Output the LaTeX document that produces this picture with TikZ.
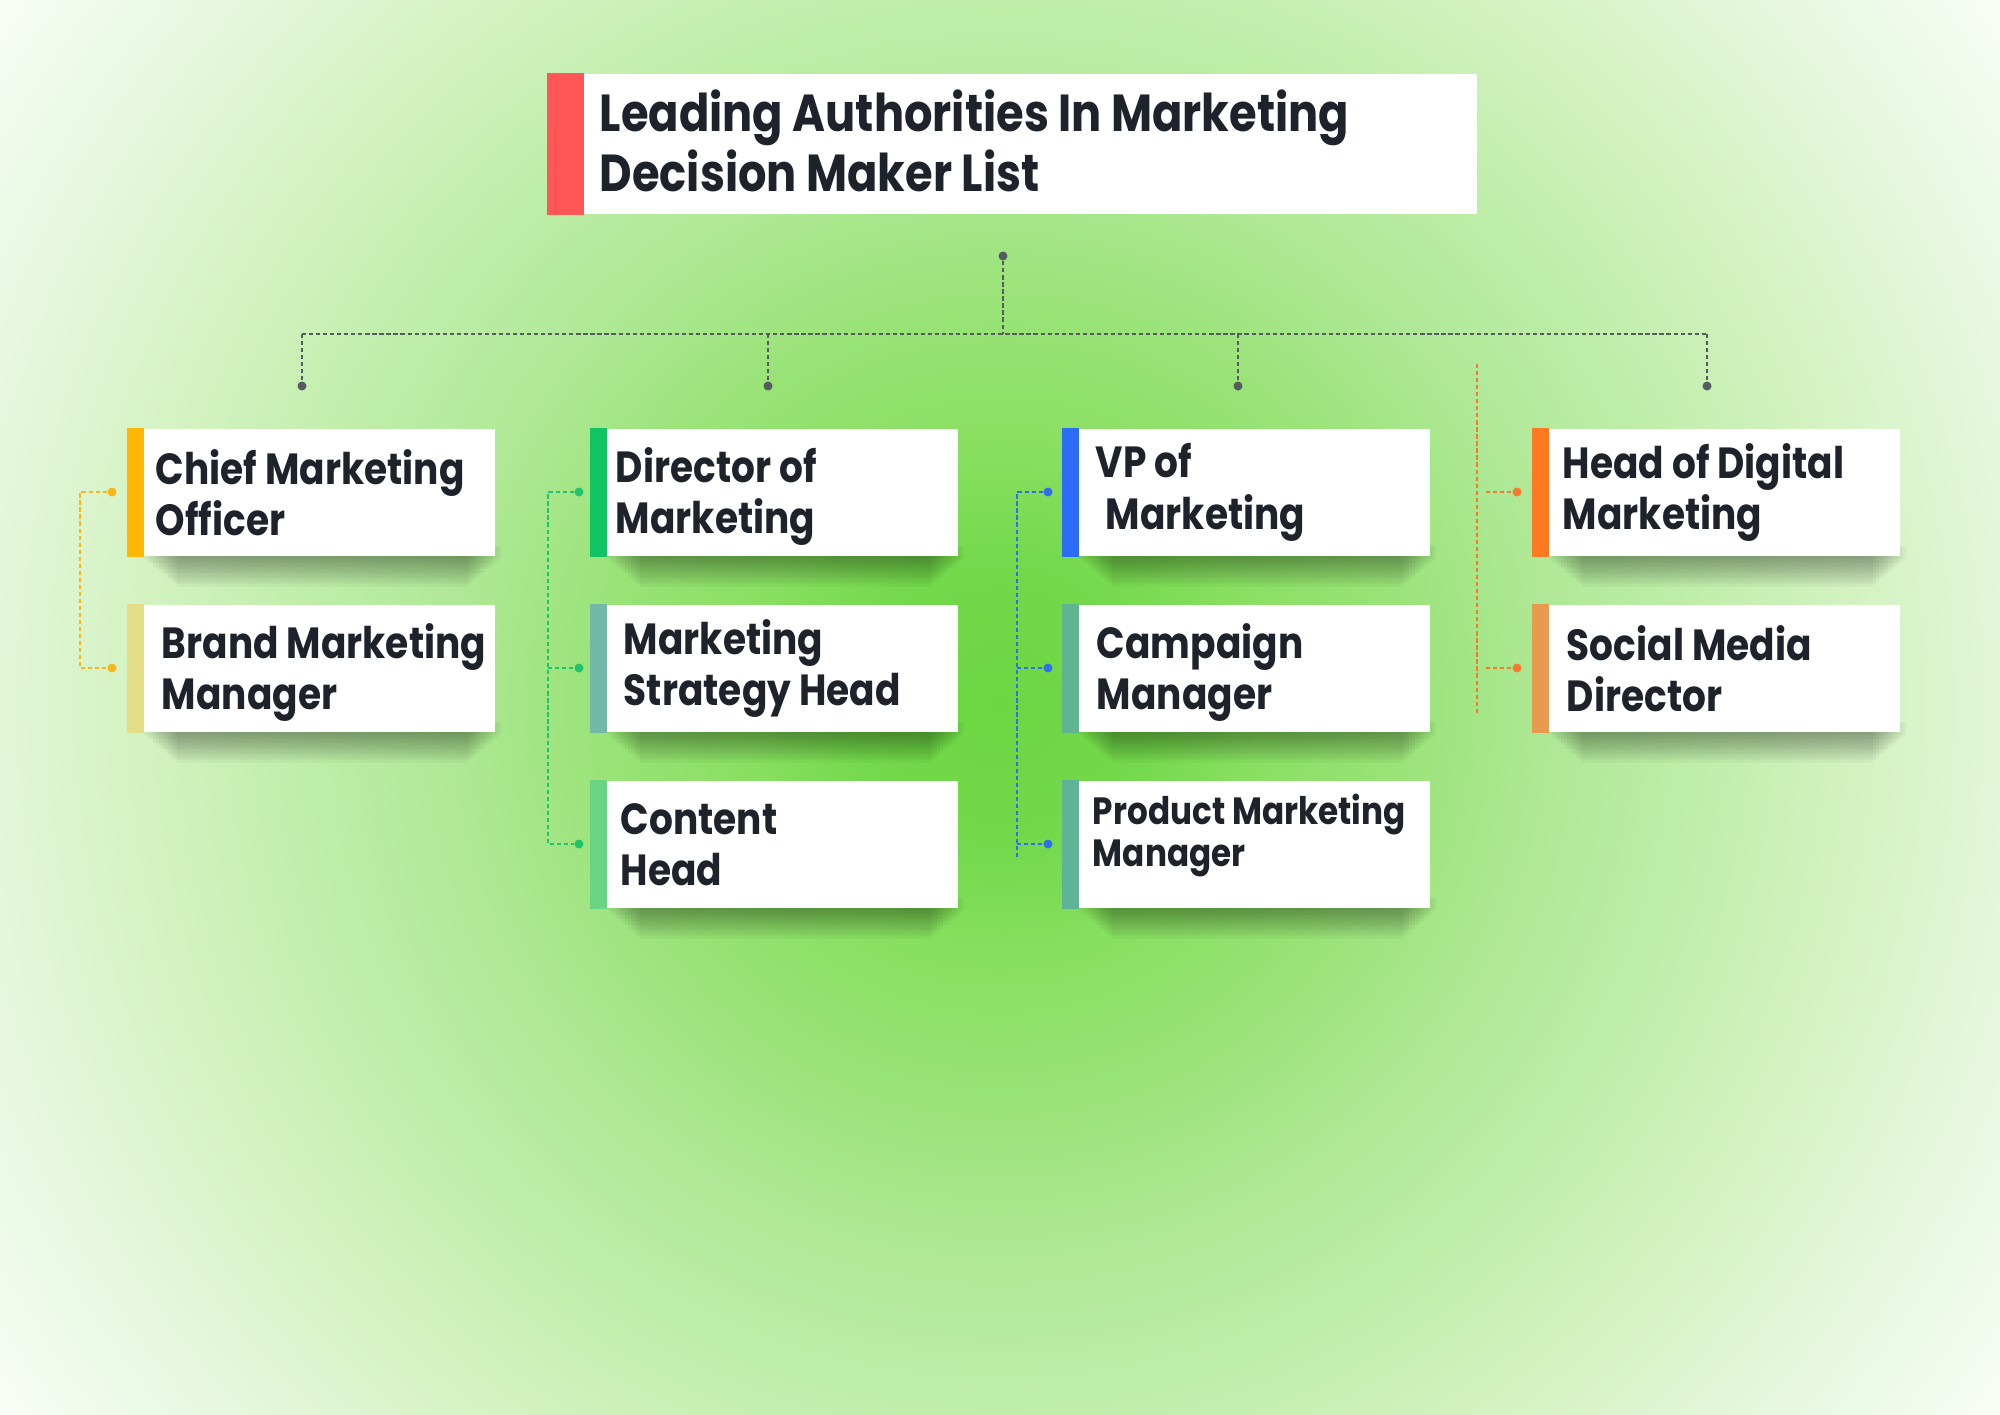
\documentclass[tikz,border=0pt]{standalone}
\usepackage{fontspec}
\setmainfont{Poppins}[FakeStretch=0.86]
\pgfdeclarelayer{bg}
\pgfdeclarelayer{shadow}
\pgfsetlayers{bg,shadow,main}
\definecolor{g0}{RGB}{108,214,66}
\definecolor{g1}{RGB}{116,217,76}
\definecolor{g2}{RGB}{136,223,96}
\definecolor{g3}{RGB}{153,227,119}
\definecolor{g4}{RGB}{175,232,150}
\definecolor{g5}{RGB}{192,238,170}
\definecolor{g6}{RGB}{210,242,192}
\definecolor{g7}{RGB}{225,246,215}
\definecolor{g8}{RGB}{249,253,247}
\pgfdeclareradialshading{bgshade}{\pgfpoint{0bp}{0bp}}{color(0bp)=(g0); color(42bp)=(g1); color(71bp)=(g2); color(113bp)=(g3); color(156bp)=(g4); color(200bp)=(g5); color(241bp)=(g6); color(283bp)=(g7); color(347bp)=(g8); color(370bp)=(g8)}
\definecolor{ink}{RGB}{30,34,43}
\definecolor{cTitle}{RGB}{255,87,87}
\definecolor{cCMO}{RGB}{255,183,3}
\definecolor{cBrand}{RGB}{226,221,134}
\definecolor{cDir}{RGB}{17,196,99}
\definecolor{cMSH}{RGB}{116,184,170}
\definecolor{cCont}{RGB}{105,212,130}
\definecolor{cVP}{RGB}{43,109,246}
\definecolor{cCamp}{RGB}{95,181,143}
\definecolor{cProd}{RGB}{95,179,151}
\definecolor{cHoD}{RGB}{255,122,33}
\definecolor{cSoc}{RGB}{232,155,78}
\definecolor{lY}{RGB}{247,183,24}
\definecolor{lG}{RGB}{34,196,106}
\definecolor{lB}{RGB}{46,111,239}
\definecolor{lO}{RGB}{244,122,46}
\definecolor{lGray}{RGB}{85,91,94}
\begin{document}
\begin{tikzpicture}[x=0.01cm,y=-0.01cm,
  card/.style={rectangle, fill=white, inner sep=0pt, minimum width=3.67cm, minimum height=1.27cm},
  titlebox/.style={rectangle, fill=white, inner sep=0pt, minimum width=9.29cm, minimum height=1.40cm},
  lbl/.style={anchor=west, align=left, inner sep=0pt, text=ink, font=\bfseries\fontsize{12.4pt}{14.6pt}\selectfont},
  smalllbl/.style={lbl, font=\bfseries\fontsize{10.8pt}{12.2pt}\selectfont},
  titlelbl/.style={anchor=west, align=left, inner sep=0pt, text=ink, font=\bfseries\fontsize{14.8pt}{17.2pt}\selectfont},
  dot/.style={circle, inner sep=0pt, minimum size=0.09cm},
  dline/.style={dashed, dash pattern=on 1.2pt off 0.8pt, line width=0.5pt},
  shadowlayer/.style={fill=black, opacity=0.03},
]
\useasboundingbox (0,0) rectangle (2000,1414);
\begin{pgfonlayer}{bg}
\begin{scope}
  \clip (0,0) rectangle (2000,1414);
  \node[inner sep=0pt] (bgshading) at (1000,705) {\pgfuseshading{bgshade}};
\end{scope}
\end{pgfonlayer}

% title
\node[titlebox] (title) at (1012.5,144) {};
\fill[cTitle] (title.north west) rectangle ([xshift=0.37cm]title.south west);
\node[titlelbl] (titletext) at ([xshift=0.52cm,yshift=0.03cm]title.west) {Leading Authorities In Marketing\\Decision Maker List};

% cards
\node[card] (cmo)   at (311.5,492.5) {};
\node[card] (brand) at (311.5,668.5) {};
\node[card] (dir)   at (774.5,492.5) {};
\node[card] (msh)   at (774.5,668.5) {};
\node[card] (cont)  at (774.5,844.5) {};
\node[card] (vp)    at (1246.5,492.5) {};
\node[card] (camp)  at (1246.5,668.5) {};
\node[card] (prod)  at (1246.5,844.5) {};
\node[card] (hod)   at (1716.5,492.5) {};
\node[card] (soc)   at (1716.5,668.5) {};

\begin{pgfonlayer}{shadow}
\foreach \n in {cmo,brand,dir,msh,cont,vp,camp,prod,hod,soc}
  \foreach \i in {1,...,12}
    \fill[shadowlayer] ([xshift={(14+3*\i)*0.2845pt}, yshift=3pt]\n.south west)
      rectangle ([xshift={(8-3*\i)*0.2845pt}, yshift={-(2.5*\i)*0.2845pt}]\n.south east);
\end{pgfonlayer}

\foreach \n/\c in {cmo/cCMO,brand/cBrand,dir/cDir,msh/cMSH,cont/cCont,vp/cVP,camp/cCamp,prod/cProd,hod/cHoD,soc/cSoc}
  \fill[\c] (\n.north west) rectangle ([xshift=0.17cm]\n.south west);

\node[lbl] (cmot)   at ([xshift=0.28cm]cmo.west) {Chief Marketing\\Officer};
\node[lbl] (brandt) at ([xshift=0.34cm,yshift=-0.04cm]brand.west) {Brand Marketing\\Manager};
\node[lbl] (dirt)   at ([xshift=0.25cm,yshift=-0.04cm]dir.west) {Director of\\Marketing};
\node[lbl] (msht)   at ([xshift=0.33cm]msh.west) {Marketing\\Strategy Head};
\node[lbl] (contt)  at ([xshift=0.30cm]cont.west) {Content\\Head};
\node[lbl] (vpt)    at ([xshift=0.33cm]vp.west) {VP of\\\hspace*{0.1cm}Marketing};
\node[lbl] (campt)  at ([xshift=0.34cm,yshift=-0.04cm]camp.west) {Campaign\\Manager};
\node[smalllbl] (prodt) at ([xshift=0.30cm,yshift=0.09cm]prod.west) {Product Marketing\\Manager};
\node[lbl] (hodt)   at ([xshift=0.30cm]hod.west) {Head of Digital\\Marketing};
\node[lbl] (soct)   at ([xshift=0.34cm]soc.west) {Social Media\\Director};

% top tree connector
\node[dot, fill=lGray] (top) at (1003,256) {};
\coordinate (jc) at (1003,334);
\coordinate (j1) at (302,334);
\coordinate (j2) at (768,334);
\coordinate (j3) at (1238,334);
\coordinate (j4) at (1707,334);
\node[dot, fill=lGray] (d1) at (302,386) {};
\node[dot, fill=lGray] (d2) at (768,386) {};
\node[dot, fill=lGray] (d3) at (1238,386) {};
\node[dot, fill=lGray] (d4) at (1707,386) {};
\draw[dline, lGray] (top) -- (jc);
\draw[dline, lGray] (j1) -- (j4);
\foreach \k in {1,2,3,4} \draw[dline, lGray] (j\k) -- (d\k);

% column 1 connector
\node[dot, fill=lY] (y1a) at (112,492) {};
\node[dot, fill=lY] (y1b) at (112,668) {};
\coordinate (k1a) at (80,492);
\coordinate (k1b) at (80,668);
\draw[dline, lY] (y1a) -- (k1a) -- (k1b) -- (y1b);

% column 2 connector
\node[dot, fill=lG] (g2a) at (579,492) {};
\node[dot, fill=lG] (g2b) at (579,668) {};
\node[dot, fill=lG] (g2c) at (579,844) {};
\coordinate (k2a) at (548,492);
\coordinate (k2b) at (548,668);
\coordinate (k2c) at (548,844);
\draw[dline, lG] (g2a) -- (k2a) -- (k2c) -- (g2c);
\draw[dline, lG] (k2b) -- (g2b);

% column 3 connector
\node[dot, fill=lB] (b3a) at (1048,492) {};
\node[dot, fill=lB] (b3b) at (1048,668) {};
\node[dot, fill=lB] (b3c) at (1048,844) {};
\coordinate (k3a) at (1017,492);
\coordinate (k3b) at (1017,668);
\coordinate (k3c) at (1017,844);
\coordinate (k3e) at (1017,857);
\draw[dline, lB] (b3a) -- (k3a) -- (k3e);
\draw[dline, lB] (k3b) -- (b3b);
\draw[dline, lB] (k3c) -- (b3c);

% column 4 connector
\coordinate (o4t) at (1477,364);
\coordinate (o4e) at (1477,714);
\draw[dline, lO] (o4t) -- (o4e);
\coordinate (s4a) at (1486,492);
\coordinate (s4b) at (1486,668);
\node[dot, fill=lO] (o4a) at (1517,492) {};
\node[dot, fill=lO] (o4b) at (1517,668) {};
\draw[dline, lO] (s4a) -- (o4a);
\draw[dline, lO] (s4b) -- (o4b);
\end{tikzpicture}
\end{document}
